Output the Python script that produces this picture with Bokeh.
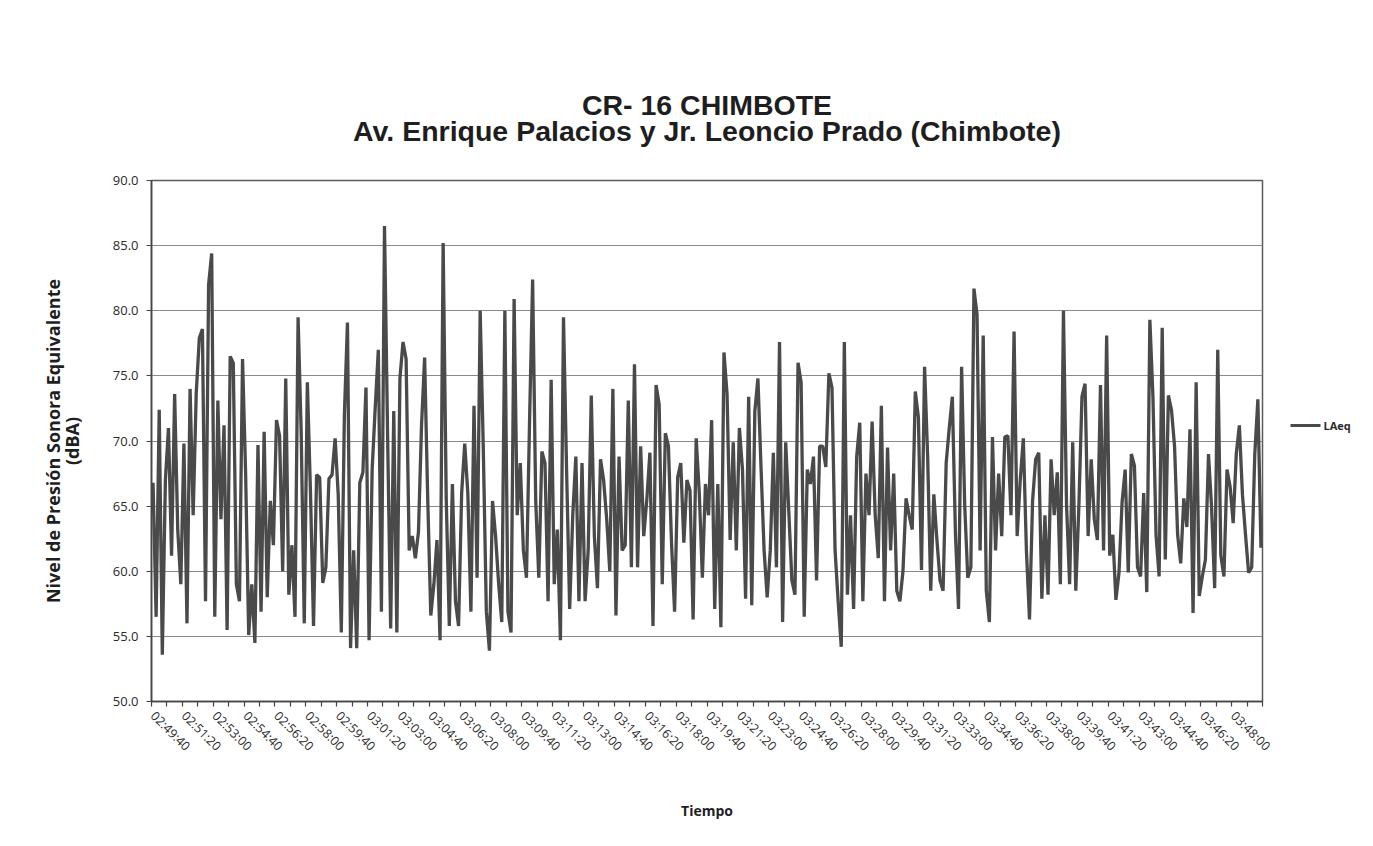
from bokeh.plotting import figure
from bokeh.models import (Range1d, FixedTicker, ColumnDataSource, NumeralTickFormatter, LinearAxis)
from bokeh.embed import file_html
from bokeh.resources import INLINE

# ---------------- data (LAeq, one value every 10 s from 02:49:40) ----------------
start_time = "02:49:40"
step_seconds = 10

laeq_0249_0258 = [66.8, 56.5, 72.4, 53.6, 67.0, 71.0, 61.2, 73.6, 63.2, 59.0,
                  69.8, 56.0, 74.0, 64.3, 73.7, 77.9, 78.6, 57.7, 82.0, 84.4,
                  56.5, 73.1, 64.0, 71.2, 55.5, 76.5, 76.0, 59.0, 57.7, 76.3,
                  67.5, 55.1, 59.0, 54.5, 69.7, 56.9, 70.7, 58.0, 65.4, 62.0,
                  71.6, 70.4, 60.0, 74.8, 58.2, 62.0, 56.5, 79.5, 70.7, 56.0,
                  74.5, 66.2]
laeq_0258_0306 = [55.8, 67.4, 67.2, 59.1, 60.3, 67.1, 67.4, 70.2, 65.9, 55.3,
                  72.0, 79.1, 54.1, 61.6, 54.1, 66.8, 67.6, 74.1, 54.7, 67.8,
                  72.6, 77.0, 56.9, 86.5, 70.5, 55.6, 72.3, 55.3, 74.8, 77.6,
                  76.3, 61.6, 62.7, 61.0, 63.0, 71.2, 76.4, 65.6, 56.6, 59.0,
                  62.4, 54.7, 85.2, 65.6, 55.8, 66.7, 57.7, 55.8, 66.0, 69.8,
                  66.0]
laeq_0306_0315 = [56.9, 72.7, 59.5, 80.0, 69.6, 56.9, 53.9, 65.4, 62.7, 59.0,
                  56.1, 80.0, 56.9, 55.3, 80.9, 64.3, 68.3, 61.6, 59.5, 71.5,
                  82.4, 65.4, 59.5, 69.2, 68.3, 57.7, 74.7, 59.0, 63.2, 54.7,
                  79.5, 67.8, 57.1, 64.3, 68.8, 57.7, 68.3, 57.7, 61.6, 73.5,
                  62.7, 58.7, 68.6, 67.0, 64.0, 60.0, 74.0, 56.6, 68.8, 61.6,
                  62.0, 73.1]
laeq_0315_0324 = [60.3, 75.9, 60.3, 69.6, 62.7, 65.5, 69.1, 55.8, 74.3, 72.8,
                  59.0, 70.6, 69.6, 62.2, 56.9, 67.2, 68.3, 62.2, 67.0, 66.2,
                  56.3, 70.2, 66.0, 59.5, 66.7, 64.3, 71.6, 57.1, 66.7, 55.7,
                  76.8, 73.6, 62.4, 69.9, 61.6, 71.0, 67.8, 57.9, 73.4, 57.4,
                  72.3, 74.8, 68.0, 61.6, 58.0, 61.6, 69.1, 60.3, 77.6, 56.1,
                  69.9, 64.6]
laeq_0324_0332 = [59.3, 58.2, 76.0, 74.5, 56.5, 67.8, 66.7, 68.8, 59.3, 69.6,
                  69.6, 68.0, 75.2, 74.1, 61.6, 57.7, 54.2, 77.6, 58.2, 64.3,
                  57.1, 68.8, 71.4, 57.7, 67.5, 64.3, 71.5, 64.3, 61.0, 72.7,
                  57.7, 69.5, 61.6, 67.5, 58.5, 57.7, 60.0, 65.6, 64.3, 63.2,
                  73.8, 71.8, 60.1, 75.7, 68.8, 58.5, 65.9, 62.4, 59.3, 58.5,
                  68.3, 71.0]
laeq_0332_0340 = [73.4, 62.9, 57.1, 75.7, 65.1, 59.5, 60.3, 81.7, 79.7, 61.6,
                  78.1, 58.5, 56.1, 70.3, 61.6, 67.5, 62.7, 70.3, 70.4, 64.3,
                  78.4, 62.7, 67.0, 70.2, 61.6, 56.3, 65.4, 68.6, 69.1, 57.9,
                  64.3, 58.2, 68.6, 64.3, 67.6, 59.0, 80.0, 65.1, 59.0, 69.9,
                  58.5, 65.0, 73.4, 74.4, 62.7, 68.6, 64.0, 62.4, 74.3]
laeq_0340_0349 = [61.6, 78.1, 61.2, 62.8, 57.8, 59.9, 65.3, 67.8, 59.9, 69.0,
                  68.1, 60.3, 59.6, 66.0, 58.4, 79.3, 73.4, 62.8, 59.6, 78.7,
                  60.9, 73.5, 72.4, 69.6, 62.8, 60.6, 65.6, 63.4, 70.9, 56.8,
                  74.5, 58.1, 59.6, 60.9, 69.0, 64.9, 58.7, 77.0, 61.2, 59.6,
                  67.8, 66.5, 63.7, 69.0, 71.2, 65.9, 62.8, 59.9, 60.3, 69.0,
                  73.2, 61.8]

tick_labels = ["02:49:40", "02:51:20", "02:53:00", "02:54:40", "02:56:20", "02:58:00",
               "02:59:40", "03:01:20", "03:03:00", "03:04:40", "03:06:20", "03:08:00",
               "03:09:40", "03:11:20", "03:13:00", "03:14:40", "03:16:20", "03:18:00",
               "03:19:40", "03:21:20", "03:23:00", "03:24:40", "03:26:20", "03:28:00",
               "03:29:40", "03:31:20", "03:33:00", "03:34:40", "03:36:20", "03:38:00",
               "03:39:40", "03:41:20", "03:43:00", "03:44:40", "03:46:20", "03:48:00"]
y_ticks = [50, 55, 60, 65, 70, 75, 80, 85, 90]
label_every = 10   # one label every 10 samples (100 s)
tick_every = 5     # tick marks every 5 samples

title_1 = "CR- 16 CHIMBOTE"
title_2 = "Av. Enrique Palacios y Jr. Leoncio Prado (Chimbote)"
series_name = "LAeq"

laeq = (laeq_0249_0258 + laeq_0258_0306 + laeq_0306_0315 + laeq_0315_0324 +
        laeq_0324_0332 + laeq_0332_0340 + laeq_0340_0349)
n = len(laeq)

h, m, s = (int(v) for v in start_time.split(":"))
t0 = h * 3600 + m * 60 + s
times = []
for i in range(n):
    t = t0 + i * step_seconds
    times.append("%02d:%02d:%02d" % (t // 3600, (t % 3600) // 60, t % 60))

src = ColumnDataSource(data=dict(idx=list(range(n)), laeq=laeq, time=times))

# ---------------- figure ----------------
FRAME_L, FRAME_R, FRAME_T, FRAME_B = 151, 1262, 180, 701
FIG_W, FIG_H = 1357, 830
p = figure(width=FIG_W, height=FIG_H, output_backend="svg", toolbar_location=None,
           title=None,
           x_range=Range1d(-0.5, n - 0.5), y_range=Range1d(y_ticks[0], y_ticks[-1]),
           min_border_left=FRAME_L, min_border_right=FIG_W - FRAME_R,
           min_border_top=FRAME_T, min_border_bottom=FIG_H - FRAME_B)
p.background_fill_color = "white"
p.border_fill_color = "white"
p.outline_line_color = "#5a5a5a"
p.outline_line_width = 1.5

LINE_COLOR = "#4a4a4a"
r = p.line(x="idx", y="laeq", source=src, line_color=LINE_COLOR, line_width=3.3)

TFONT = "Liberation Sans"
AFONT = "Open Sans"

# chart title: two centred lines, drawn as the label of an empty axis above the frame
title_axis = LinearAxis(ticker=FixedTicker(ticks=[]), axis_line_color=None,
                        major_tick_line_color=None, minor_tick_line_color=None,
                        axis_label=title_1 + "\n" + title_2, axis_label_text_font=TFONT,
                        axis_label_text_font_size="28.5px", axis_label_text_font_style="bold",
                        axis_label_text_color="#1e1e1e", axis_label_text_line_height=0.8,
                        axis_label_standoff=34)
p.add_layout(title_axis, "above")

# series key on the right: a short line sample plus the series name
legend_level = 71.2
key_axis = LinearAxis(ticker=FixedTicker(ticks=[legend_level]), axis_line_color=None,
                      major_tick_line_color=LINE_COLOR, major_tick_line_width=3,
                      major_tick_in=-28, major_tick_out=58, minor_tick_line_color=None,
                      major_label_overrides={legend_level: series_name},
                      major_label_text_font=AFONT, major_label_text_font_size="11px",
                      major_label_text_font_style="bold", major_label_text_color="#2a2a2a",
                      major_label_standoff=3)
p.add_layout(key_axis, "right")

# x axis
xa = p.below[0]
xa.ticker = FixedTicker(ticks=[k * label_every for k in range(len(tick_labels))],
                        minor_ticks=[k * tick_every - 0.5 for k in range(n // tick_every + 1)])
xa.major_label_overrides = {k * label_every: lab for k, lab in enumerate(tick_labels)}
xa.major_label_orientation = -0.785398
xa.major_tick_line_color = None
xa.minor_tick_in = 0
xa.minor_tick_out = 5
xa.minor_tick_line_color = "#444444"
xa.minor_tick_line_width = 1.2
xa.axis_line_color = "#444444"
xa.axis_line_width = 1.6
xa.major_label_text_font = AFONT
xa.major_label_text_font_size = "12.5px"
xa.major_label_text_color = "#2a2a2a"
xa.major_label_standoff = 6
xa.axis_label = "Tiempo"
xa.axis_label_text_font = AFONT
xa.axis_label_text_font_size = "14px"
xa.axis_label_text_font_style = "bold"
xa.axis_label_text_color = "#1e1e1e"
xa.axis_label_standoff = 38

# y axis
ya = p.left[0]
ya.ticker = FixedTicker(ticks=y_ticks)
ya.formatter = NumeralTickFormatter(format="0.0")
ya.major_tick_in = 0
ya.major_tick_out = 5
ya.major_tick_line_color = "#444444"
ya.minor_tick_line_color = None
ya.axis_line_color = "#444444"
ya.axis_line_width = 1.6
ya.major_label_text_font = AFONT
ya.major_label_text_font_size = "13px"
ya.major_label_text_color = "#2a2a2a"
ya.major_label_standoff = 8
ya.axis_label = "Nivel de Presión Sonora Equivalente\n(dBA)"
ya.axis_label_text_font = AFONT
ya.axis_label_text_font_size = "18px"
ya.axis_label_text_font_style = "bold"
ya.axis_label_text_color = "#1e1e1e"
ya.axis_label_text_line_height = 0.78
ya.axis_label_standoff = 26

p.xgrid.grid_line_color = None
p.ygrid.grid_line_color = "#8a8a8a"
p.ygrid.grid_line_width = 1.2

open("out.html", "w").write(file_html(p, INLINE))
